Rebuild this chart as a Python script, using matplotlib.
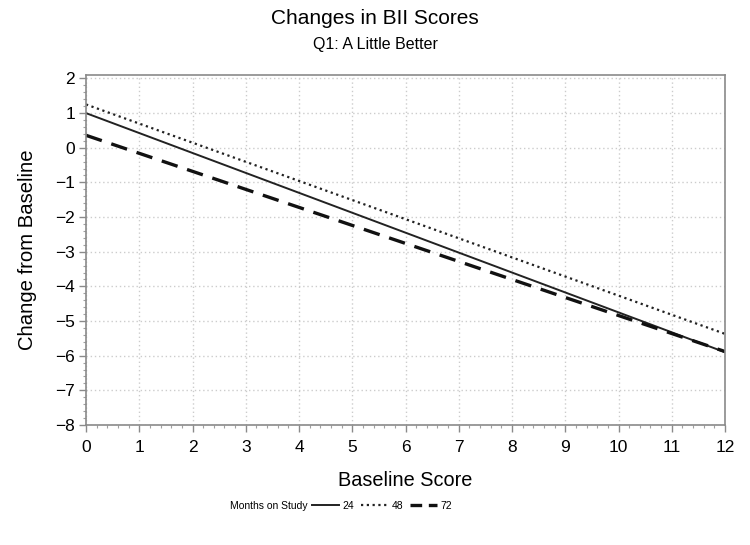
import matplotlib
matplotlib.use("Agg")
import matplotlib.pyplot as plt
from matplotlib.ticker import AutoMinorLocator
from matplotlib.lines import Line2D

plt.rcParams['font.family'] = ['Liberation Sans', 'DejaVu Sans']

# Data
baseline = [0, 12]
months_24 = [1.0, -5.9]
months_48 = [1.25, -5.37]
months_72 = [0.36, -5.88]
series_labels = ["24", "48", "72"]
xticks = list(range(0, 13))
yticks = list(range(-8, 3))

fig = plt.figure(figsize=(7.5, 5.45), dpi=100)
W, H = 750, 545
left, right, top, bottom = 86, 725, 75, 425
ax = fig.add_axes([left / W, 1 - bottom / H, (right - left) / W, (bottom - top) / H])

styles = [dict(color='#222222', lw=1.4, ls='-'),
          dict(color='#222222', lw=1.6, ls=(0, (1, 1.6))),
          dict(color='#111111', lw=2.4, ls=(0, (5, 3)))]
for ys, st in zip([months_24, months_48, months_72], styles):
    ax.plot(baseline, ys, **st)

ax.set_xlim(0, 12)
ax.set_ylim(-8, 2.1)
ax.set_xticks(xticks)
ax.set_yticks(yticks)
ax.xaxis.set_minor_locator(AutoMinorLocator(5))
ax.yaxis.set_minor_locator(AutoMinorLocator(5))
ax.grid(True, which='major', color='#cccccc', ls=(0, (1, 2)), lw=1.0)

for s in ax.spines.values():
    s.set_color('#8a8a8a')
    s.set_linewidth(1.2)
ax.tick_params(axis='both', which='major', labelsize=12.5, color='#8a8a8a',
               length=5, width=1, direction='out', pad=3)
ax.tick_params(axis='both', which='minor', color='#a0a0a0', length=2.5, width=0.8,
               direction='out')
ax.tick_params(axis='x', pad=6)

ax.set_xlabel("Baseline Score", fontsize=14.3, labelpad=11)
ax.set_ylabel("Change from Baseline", fontsize=14.6, labelpad=13)

fig.text(0.5, 1 - 18 / H, "Changes in BII Scores", ha='center', va='center', fontsize=15)
fig.text(0.5, 1 - 45 / H, "Q1: A Little Better", ha='center', va='center', fontsize=11.5)

fig.text(230 / W, 1 - 506 / H, "Months on Study", ha='left', va='center', fontsize=7.5)
handles = [Line2D([], [], color='#222222', lw=1.4, ls='-'),
           Line2D([], [], color='#222222', lw=1.6, ls=(0, (1, 1.6))),
           Line2D([], [], color='#111111', lw=2.4, ls=(0, (3.5, 2)))]
leg = fig.legend(handles, series_labels, loc='center left',
                 bbox_to_anchor=(312 / W, 1 - 506 / H), ncol=3, frameon=False,
                 fontsize=7.5, handlelength=2.6, handletextpad=0.3, columnspacing=0.7,
                 borderpad=0, borderaxespad=0)

fig.savefig("out.png", dpi=100, facecolor='white')
